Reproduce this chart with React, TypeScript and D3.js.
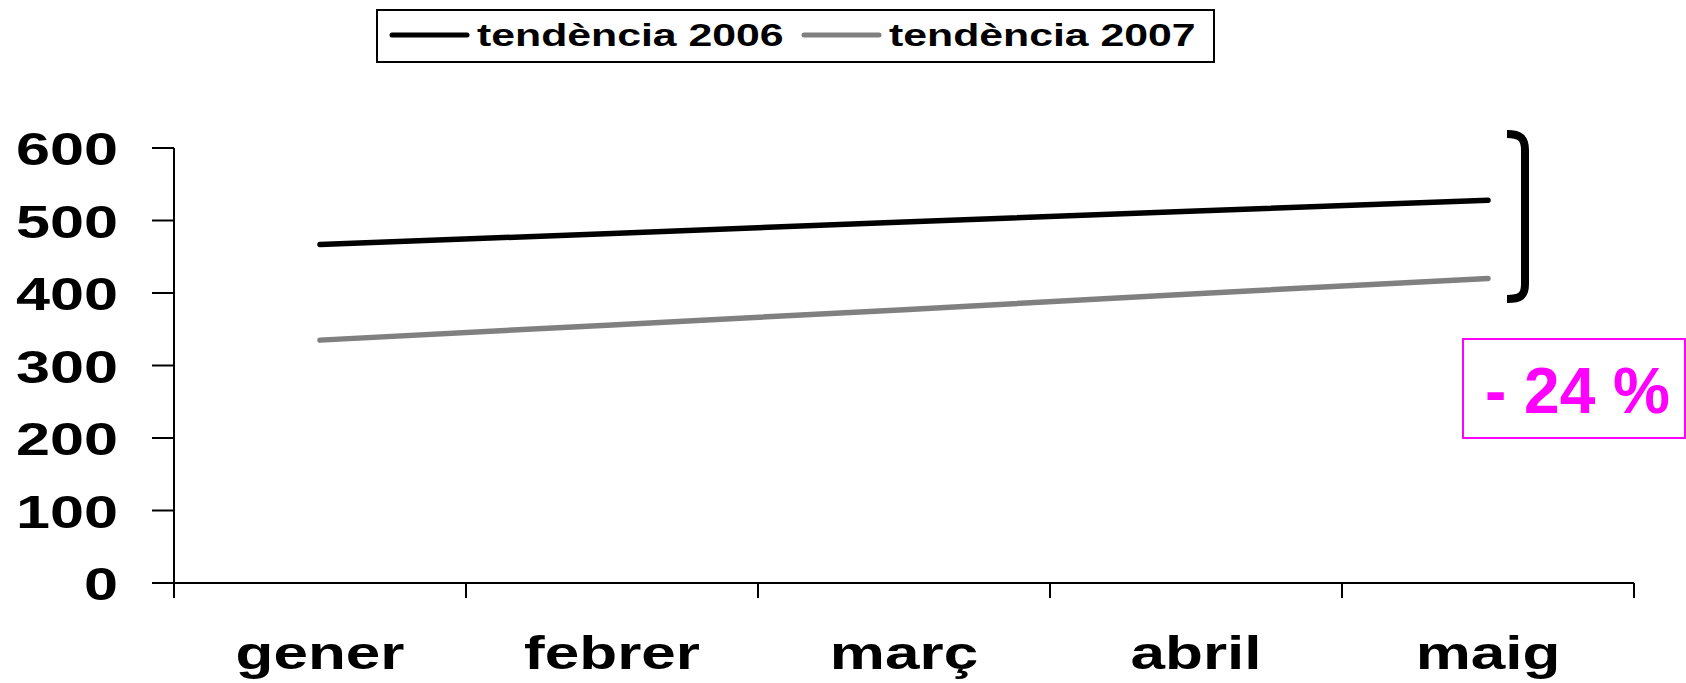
import * as d3 from 'd3';
import React from 'react';

const months = ['gener', 'febrer', 'març', 'abril', 'maig'];
const trend2006 = [467, 482, 498, 513, 528];
const trend2007 = [335, 356, 377, 399, 420];
const yTicks = [0, 100, 200, 300, 400, 500, 600];
const seriesNames = ['tendència 2006', 'tendència 2007'];
const seriesColors = ['#000000', '#808080'];
const changeLabel = '- 24 %';

const W = 1686;
const H = 683;
const FONT = '"Liberation Sans", Arial, Helvetica, sans-serif';
// the source chart was stretched sideways, so its text is wide
const SX = 1.38;

const x = d3.scaleBand<string>().domain(months).range([174, 1634]);
const y = d3.scaleLinear().domain([0, 600]).range([583, 148]);

const line = d3.line<number>()
    .x((d, i) => (x(months[i]) as number) + x.bandwidth() / 2)
    .y(d => y(d));

const App = () => {
    const bounds = [...months.map(m => x(m) as number), x.range()[1]];

    return (
        <div style={{ position: 'absolute', left: 0, top: 0 }}>
            <svg width={W} height={H} style={{ display: 'block', background: '#fff' }}>
                {/* legend */}
                <rect x={377} y={10} width={837} height={52} fill="none" stroke="#000" strokeWidth={2} />
                {seriesNames.map((name, i) => {
                    const lx = i === 0 ? 392 : 804;
                    return (
                        <g key={name}>
                            <line x1={lx} x2={lx + 75} y1={35} y2={35}
                                stroke={seriesColors[i]} strokeWidth={5} strokeLinecap="round" />
                            <text transform={`translate(${lx + 85},46) scale(${SX},1)`}
                                fontFamily={FONT} fontWeight="bold" fontSize={31} fill="#000">
                                {name}
                            </text>
                        </g>
                    );
                })}

                {/* y axis */}
                <line x1={174} x2={174} y1={y(600)} y2={598} stroke="#000" strokeWidth={2} />
                {yTicks.map(t => (
                    <g key={t}>
                        <line x1={152} x2={174} y1={y(t)} y2={y(t)} stroke="#000" strokeWidth={2} />
                        <text transform={`translate(118,${y(t) + 17}) scale(1.33,1)`}
                            textAnchor="end" fontFamily={FONT} fontWeight="bold" fontSize={46} fill="#000">
                            {t}
                        </text>
                    </g>
                ))}

                {/* x axis */}
                <line x1={152} x2={x.range()[1]} y1={y(0)} y2={y(0)} stroke="#000" strokeWidth={2} />
                {bounds.map((b, i) => (
                    <line key={i} x1={b} x2={b} y1={y(0)} y2={598} stroke="#000" strokeWidth={2} />
                ))}
                {months.map(m => (
                    <text key={m}
                        transform={`translate(${(x(m) as number) + x.bandwidth() / 2},669) scale(1.32,1)`}
                        textAnchor="middle" fontFamily={FONT} fontWeight="bold" fontSize={47} fill="#000">
                        {m}
                    </text>
                ))}

                {/* trend lines */}
                {[trend2006, trend2007].map((s, i) => (
                    <path key={i} d={line(s) as string} fill="none"
                        stroke={seriesColors[i]} strokeWidth={5.5} strokeLinecap="round" />
                ))}

                {/* bracket */}
                <path d="M1507,134 C1520,134 1525,138 1525,150 L1525,284 C1525,296 1520,299 1507,299"
                    fill="none" stroke="#000" strokeWidth={8} />

                {/* change box */}
                <rect x={1463} y={339} width={222} height={99} fill="#fff" stroke="#FF00FF" strokeWidth={2} />
                <text x={1485} y={413} fontFamily={FONT} fontWeight="bold" fontSize={64} fill="#FF00FF">
                    {changeLabel}
                </text>
            </svg>
        </div>
    );
};

export default App;
